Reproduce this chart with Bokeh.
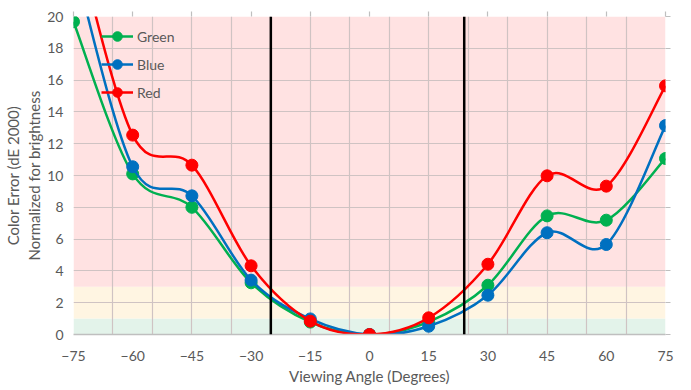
from bokeh.plotting import figure
from bokeh.models import (FixedTicker, LinearAxis, Span, BoxAnnotation, Legend, LegendItem, Range1d, ColumnDataSource)
from bokeh.embed import file_html
from bokeh.resources import INLINE

angles = [-75, -60, -45, -30, -15, 0, 15, 30, 45, 60, 75]
green = [19.67, 10.1, 8.0, 3.25, 0.78, 0.0, 0.8, 3.1, 7.46, 7.19, 11.07]
blue = [23.5, 10.55, 8.72, 3.42, 0.98, 0.0, 0.52, 2.47, 6.4, 5.66, 13.14]
red = [25.5, 12.54, 10.65, 4.32, 0.84, 0.0, 1.05, 4.42, 9.98, 9.33, 15.64]
series_names = ["Green", "Blue", "Red"]
series_colors = ["#00B050", "#0070C0", "#FF0000"]
cutoffs = [-25, 24]
x_ticks = [-75, -60, -45, -30, -15, 0, 15, 30, 45, 60, 75]
x_grid = [-75, -65, -55, -45, -35, -25, -15, -5, 5, 15, 25, 35, 45, 55, 65, 75]
y_ticks = [0, 2, 4, 6, 8, 10, 12, 14, 16, 18, 20]
bands = [(0, 1, "#E3F3EA"), (1, 3, "#FFF5E2"), (3, 20, "#FFE2E2")]

FONT = "Lato"
GREY = "#595959"

p = figure(frame_width=592, frame_height=318, output_backend="svg", toolbar_location=None,
           x_range=Range1d(-75, 75), y_range=Range1d(0, 20),
           min_border_left=65, min_border_right=18, min_border_top=16, min_border_bottom=46)
p.outline_line_color = None
p.background_fill_color = "white"

for lo, hi, c in bands:
    p.add_layout(BoxAnnotation(bottom=lo, top=hi, fill_color=c, fill_alpha=1.0, line_color=None, level="image"))

p.xgrid.ticker = FixedTicker(ticks=x_grid)
p.ygrid.ticker = FixedTicker(ticks=y_ticks)
for g in (p.xgrid, p.ygrid):
    g.grid_line_color = "#CFC3C3"
    g.grid_line_width = 1.2
    g.level = "underlay"

xa = p.xaxis[0]
xa.ticker = FixedTicker(ticks=x_ticks)
xa.axis_label = "Viewing Angle (Degrees)"
xa.axis_line_color = "#BFBFBF"
xa.axis_line_width = 1.5
xa.major_tick_out = 0
xa.major_tick_in = 0
xa.minor_tick_out = 0
xa.minor_tick_in = 0
xa.major_label_standoff = 16
xa.axis_label_standoff = 3

ya = p.yaxis[0]
ya.ticker = FixedTicker(ticks=y_ticks)
ya.axis_label = "Color Error (dE 2000)\nNormalized for brightness"
ya.axis_line_color = None
ya.major_tick_out = 0
ya.major_tick_in = 0
ya.minor_tick_out = 0
ya.minor_tick_in = 0
ya.major_label_standoff = 10
ya.axis_label_standoff = 1

for ax in (xa, ya):
    ax.major_label_text_font = FONT
    ax.major_label_text_font_size = "14px"
    ax.major_label_text_color = GREY
    ax.axis_label_text_font = FONT
    ax.axis_label_text_font_size = "15px"
    ax.axis_label_text_color = GREY
    ax.axis_label_text_font_style = "normal"

top = LinearAxis(ticker=FixedTicker(ticks=[], minor_ticks=x_ticks),
                 axis_line_color=None, major_tick_out=0, major_tick_in=0, minor_tick_out=5, minor_tick_in=0,
                 minor_tick_line_color="#BFBFBF", minor_tick_line_width=1.2)
p.add_layout(top, "above")
right = LinearAxis(ticker=FixedTicker(ticks=[], minor_ticks=y_ticks),
                   axis_line_color=None, major_tick_out=0, major_tick_in=0, minor_tick_out=5, minor_tick_in=0,
                   minor_tick_line_color="#BFBFBF", minor_tick_line_width=1.2)
p.add_layout(right, "right")


def smooth_segments(xs, ys):
    n = len(xs)
    segs = dict(x0=[], y0=[], x1=[], y1=[], cx0=[], cy0=[], cx1=[], cy1=[])
    for i in range(n - 1):
        xm, ym = (xs[i - 1], ys[i - 1]) if i > 0 else (xs[i], ys[i])
        xp, yp = (xs[i + 2], ys[i + 2]) if i + 2 < n else (xs[i + 1], ys[i + 1])
        segs["x0"].append(xs[i]); segs["y0"].append(ys[i])
        segs["x1"].append(xs[i + 1]); segs["y1"].append(ys[i + 1])
        segs["cx0"].append(xs[i] + (xs[i + 1] - xm) / 6.0)
        segs["cy0"].append(ys[i] + (ys[i + 1] - ym) / 6.0)
        segs["cx1"].append(xs[i + 1] - (xp - xs[i]) / 6.0)
        segs["cy1"].append(ys[i + 1] - (yp - ys[i]) / 6.0)
    return segs


items = []
for name, ys, col in zip(series_names, [green, blue, red], series_colors):
    src = ColumnDataSource(smooth_segments(angles, ys))
    bz = p.bezier(x0="x0", y0="y0", x1="x1", y1="y1", cx0="cx0", cy0="cy0", cx1="cx1", cy1="cy1",
                  source=src, line_color=col, line_width=2.5)
    sc = p.scatter(angles, ys, size=12, fill_color=col, line_color=col)
    items.append(LegendItem(label=name, renderers=[bz, sc]))

for c in cutoffs:
    p.add_layout(Span(location=c, dimension="height", line_color="black", line_width=2.5))

leg = Legend(items=items, location=(28, 230), border_line_color=None, background_fill_alpha=0,
             padding=0, margin=0, spacing=4, glyph_width=32, glyph_height=24, label_standoff=4,
             label_text_font=FONT, label_text_font_size="14px", label_text_color=GREY)
p.add_layout(leg, "center")

open("out.html", "w").write(file_html(p, INLINE))
